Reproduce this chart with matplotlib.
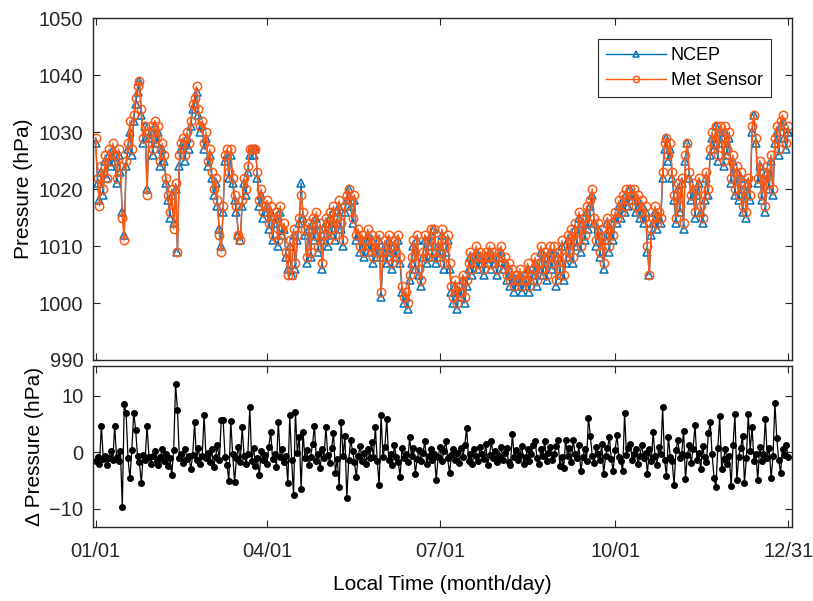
import numpy as np
import matplotlib
matplotlib.use('Agg')
import matplotlib.pyplot as plt

plt.rcParams['font.family'] = ['Liberation Sans', 'DejaVu Sans']

# NCEP surface pressure (hPa), one value per day of the year
ncep = [
    1028, 1021, 1018, 1023, 1019, 1025, 1022, 1026, 1024, 1027,
    1025, 1021, 1026, 1023, 1016, 1012, 1024, 1027, 1030, 1026,
    1032, 1035, 1037, 1039, 1033, 1028, 1031, 1020, 1029, 1030,
    1026, 1031, 1028, 1030, 1024, 1027, 1025, 1021, 1018, 1015,
    1019, 1014, 1020, 1009, 1024, 1027, 1028, 1025, 1029, 1027,
    1031, 1034, 1035, 1037, 1033, 1030, 1031, 1027, 1029, 1024,
    1026, 1022, 1019, 1021, 1017, 1013, 1010, 1016, 1025, 1026,
    1022, 1026, 1021, 1018, 1016, 1012, 1011, 1017, 1021, 1019,
    1023, 1026, 1027, 1026, 1027, 1022, 1017, 1019, 1015, 1016,
    1017, 1013, 1016, 1011, 1014, 1015, 1010, 1016, 1012, 1013,
    1008, 1006, 1010, 1005, 1012, 1006, 1011, 1014, 1021, 1015,
    1012, 1007, 1013, 1008, 1014, 1011, 1015, 1009, 1013, 1006,
    1011, 1014, 1010, 1015, 1012, 1016, 1011, 1014, 1017, 1013,
    1010, 1016, 1018, 1020, 1017, 1014, 1018, 1011, 1012, 1009,
    1011, 1008, 1010, 1012, 1009, 1011, 1007, 1010, 1008, 1011,
    1001, 1008, 1010, 1007, 1011, 1009, 1006, 1010, 1008, 1011,
    1007, 1002, 1000, 1001, 999, 1004, 1007, 1010, 1006, 1011,
    1005, 1003, 1008, 1011, 1007, 1010, 1012, 1008, 1013, 1007,
    1010, 1008, 1012, 1006, 1009, 1011, 1006, 1002, 1000, 1003,
    999, 1002, 1001, 1004, 1000, 1003, 1006, 1008, 1005, 1007,
    1009, 1006, 1008, 1007, 1005, 1008, 1007, 1009, 1006, 1008,
    1007, 1005, 1008, 1009, 1006, 1007, 1004, 1006, 1003, 1005,
    1002, 1004, 1003, 1005, 1002, 1004, 1003, 1006, 1002, 1004,
    1005, 1007, 1003, 1006, 1009, 1005, 1008, 1004, 1007, 1009,
    1006, 1009, 1003, 1008, 1005, 1010, 1004, 1007, 1011, 1008,
    1012, 1007, 1013, 1010, 1015, 1009, 1014, 1011, 1016, 1013,
    1017, 1019, 1014, 1010, 1013, 1008, 1012, 1006, 1011, 1014,
    1009, 1013, 1011, 1015, 1014, 1017, 1015, 1018, 1016, 1019,
    1017, 1020, 1018, 1019, 1016, 1018, 1015, 1017, 1014, 1016,
    1009, 1005, 1012, 1014, 1016, 1013, 1015, 1014, 1022, 1027,
    1029, 1025, 1027, 1022, 1018, 1014, 1020, 1016, 1021, 1013,
    1025, 1028, 1022, 1018, 1020, 1015, 1019, 1021, 1016, 1014,
    1018, 1022, 1019, 1026, 1029, 1027, 1031, 1025, 1030, 1028,
    1024, 1030, 1026, 1029, 1021, 1025, 1019, 1023, 1018, 1022,
    1016, 1020, 1015, 1021, 1018, 1030, 1033, 1028, 1021, 1024,
    1018, 1022, 1016, 1023, 1020, 1025, 1019, 1028, 1030, 1026,
    1031, 1032, 1029, 1027, 1030,
]

# Met Sensor pressure (hPa), same days
met = [
    1029, 1022, 1017, 1024, 1020, 1026, 1022, 1027, 1025, 1028,
    1026, 1022, 1027, 1024, 1015, 1011, 1025, 1028, 1032, 1027,
    1033, 1036, 1038, 1039, 1034, 1029, 1031, 1019, 1030, 1031,
    1027, 1032, 1029, 1031, 1025, 1028, 1026, 1022, 1019, 1016,
    1020, 1013, 1021, 1009, 1026, 1028, 1029, 1026, 1030, 1028,
    1032, 1035, 1036, 1038, 1034, 1031, 1032, 1028, 1030, 1025,
    1027, 1023, 1020, 1022, 1018, 1012, 1009, 1017, 1026, 1027,
    1023, 1027, 1022, 1019, 1017, 1012, 1011, 1018, 1022, 1020,
    1024, 1027, 1027, 1027, 1027, 1023, 1018, 1020, 1016, 1017,
    1018, 1014, 1017, 1012, 1015, 1016, 1011, 1017, 1013, 1014,
    1009, 1005, 1011, 1005, 1013, 1007, 1012, 1015, 1019, 1016,
    1013, 1008, 1014, 1009, 1015, 1012, 1016, 1010, 1014, 1007,
    1012, 1015, 1011, 1016, 1013, 1017, 1012, 1015, 1018, 1014,
    1011, 1017, 1019, 1020, 1018, 1015, 1019, 1012, 1013, 1010,
    1012, 1009, 1011, 1013, 1010, 1012, 1008, 1011, 1009, 1012,
    1002, 1009, 1011, 1008, 1012, 1010, 1007, 1011, 1009, 1012,
    1008, 1003, 1001, 1002, 1000, 1005, 1008, 1011, 1007, 1012,
    1006, 1004, 1009, 1012, 1008, 1011, 1013, 1009, 1013, 1008,
    1011, 1009, 1013, 1007, 1010, 1012, 1007, 1003, 1001, 1004,
    1000, 1003, 1002, 1005, 1001, 1004, 1007, 1009, 1006, 1008,
    1010, 1007, 1009, 1008, 1006, 1009, 1008, 1010, 1007, 1009,
    1008, 1006, 1009, 1010, 1007, 1008, 1005, 1007, 1004, 1006,
    1003, 1005, 1004, 1006, 1003, 1005, 1004, 1007, 1003, 1005,
    1006, 1008, 1004, 1007, 1010, 1006, 1009, 1005, 1008, 1010,
    1007, 1010, 1004, 1009, 1006, 1011, 1005, 1008, 1012, 1009,
    1013, 1008, 1014, 1011, 1016, 1010, 1015, 1012, 1017, 1014,
    1018, 1020, 1015, 1011, 1014, 1009, 1013, 1007, 1012, 1015,
    1010, 1014, 1012, 1016, 1015, 1018, 1016, 1019, 1017, 1020,
    1018, 1020, 1019, 1020, 1017, 1019, 1016, 1018, 1015, 1017,
    1010, 1005, 1013, 1015, 1017, 1014, 1016, 1015, 1023, 1028,
    1029, 1026, 1028, 1023, 1019, 1015, 1021, 1017, 1022, 1014,
    1026, 1028, 1023, 1019, 1021, 1016, 1020, 1022, 1017, 1015,
    1019, 1023, 1020, 1027, 1030, 1028, 1031, 1026, 1031, 1029,
    1025, 1031, 1027, 1030, 1022, 1026, 1020, 1024, 1019, 1023,
    1017, 1021, 1016, 1022, 1019, 1031, 1033, 1029, 1022, 1025,
    1019, 1023, 1017, 1024, 1021, 1026, 1020, 1029, 1031, 1027,
    1032, 1033, 1030, 1028, 1031,
]

# pressure difference NCEP - Met Sensor (hPa)
delta = [
    -1.5, -0.8, -2.0, 4.7, -1.2, -0.6, -2.2, -1.0, 0.3, -1.4,
    4.6, -0.9, -1.6, 0.2, -9.6, 8.5, 6.9, -1.1, -4.6, 0.4,
    6.9, 4.0, -0.7, -1.8, -5.4, -0.5, -1.3, 4.7, -0.8, -2.0,
    -0.6, 0.3, -1.5, -2.3, -0.9, 0.5, -1.6, -0.4, -2.5, -1.1,
    -4.0, 0.4, 12.0, 7.4, -1.0, -0.3, -1.9, 0.6, -1.2, -0.7,
    -3.0, -0.5, 5.3, -1.4, 0.8, -2.1, -0.6, 6.6, -1.0, -0.2,
    -1.8, 0.5, -2.6, -0.9, 1.2, -1.4, 5.6, 5.6, -0.8, -2.2,
    -5.1, 5.5, -0.4, -5.2, -1.1, 0.9, -1.7, 4.4, -0.6, -2.0,
    -0.3, 8.0, -1.5, 0.7, -2.4, -1.0, -4.1, 0.2, -1.3, -0.5,
    -2.1, 1.0, 3.6, -1.2, -0.4, -2.6, 5.4, -0.9, 0.6, -1.8,
    -0.7, -5.4, 6.5, -1.3, -7.5, 7.1, -0.2, 2.7, -6.4, 3.5,
    -1.1, 0.4, -2.3, -0.8, 1.5, 4.7, -1.6, -0.3, -2.8, 0.6,
    -1.0, 4.4, -0.5, -1.9, 0.8, 3.4, -3.6, -1.2, -6.2, 5.4,
    -0.6, 2.8, -8.1, -1.4, 2.1, 0.3, -1.8, -4.3, -0.7, 1.1,
    -1.5, -0.2, -2.0, 0.6, -1.1, 1.8, -0.9, 4.5, -1.6, -5.8,
    6.6, -0.8, 0.9, 5.8, -1.3, -0.4, -2.2, 1.2, -0.9, -1.7,
    -4.3, 0.7, -1.0, -0.3, -1.8, 2.6, -0.6, 0.8, -3.8, -1.2,
    0.4, -1.5, -0.2, 1.9, -2.1, -0.7, 0.5, -1.3, -0.4, -4.9,
    -0.8, 0.9, -1.6, 0.3, 1.9, -1.1, -3.7, -0.5, 0.6, -1.4,
    -0.2, -1.9, 0.8, -0.9, 1.2, 4.3, -1.5, -0.4, -2.0, 0.5,
    -0.7, -1.6, 0.9, -0.3, -1.2, 1.4, -2.2, -0.5, 1.9, -1.0,
    0.3, -1.7, -0.6, 1.0, -1.3, -0.2, 0.7, -1.8, -2.3, 3.2,
    -0.9, 0.4, -1.4, -0.5, 1.1, -2.0, -0.8, 0.6, -1.5, -0.3,
    1.3, 1.9, -1.1, -2.1, 0.5, -0.7, 2.0, -1.6, -0.2, 0.9,
    -1.3, -0.4, 1.1, 2.2, -2.5, -0.9, -2.8, 2.2, -0.6, 0.8,
    -1.7, 2.1, -0.3, -1.1, 1.2, -3.4, -0.8, 0.5, -1.5, 6.1,
    2.9, -0.7, -1.9, 0.9, -0.4, -1.3, 1.4, -3.8, -0.6, 0.7,
    2.6, -1.2, -3.3, 0.4, 3.0, -0.9, -1.6, -3.3, 6.9, -0.5,
    0.8, 1.4, -1.4, -0.3, 0.6, -2.0, -0.7, 1.3, -1.1, -0.2,
    -3.8, 0.5, -1.5, 3.5, -0.6, -2.2, 1.0, -0.4, 7.9, -1.3,
    -4.2, 2.7, -0.8, -1.6, -5.8, 0.4, 2.2, -1.0, -0.3, 3.8,
    -4.8, -0.5, 1.2, -1.9, 0.6, 4.8, -1.3, -0.2, -3.0, 1.1,
    -0.9, -1.8, 3.3, 5.3, -0.4, -4.5, -6.2, 0.8, 6.3, -3.0,
    -1.2, 0.5, -2.0, -0.6, -6.0, 1.2, 6.7, -4.9, -0.8, 0.7,
    2.9, -5.4, -1.1, 6.7, 0.3, 4.4, -1.5, -0.4, -4.9, 1.0,
    -1.6, -0.3, 5.9, -1.0, 0.8, -4.6, -0.7, 8.7, 2.5, -1.4,
    -3.6, 0.6, -0.5, 1.2, -0.8,
]

tick_days = [0, 90, 181, 273, 364]
tick_labels = ['01/01', '04/01', '07/01', '10/01', '12/31']

days = np.arange(len(ncep))

blue = '#0072BD'
orange = '#FF5A14'

fig = plt.figure(figsize=(8.13, 6.01), dpi=100)
ax1 = fig.add_axes([0.1144, 0.401, 0.8598, 0.569])
ax2 = fig.add_axes([0.1144, 0.123, 0.8598, 0.268])

ax1.plot(days, ncep, color=blue, lw=1.0, marker='^', ms=6, mfc='none',
         mec=blue, mew=1.1, label='NCEP')
ax1.plot(days, met, color=orange, lw=1.0, marker='o', ms=6, mfc='none',
         mec=orange, mew=1.1, label='Met Sensor')
ax1.set_ylim(990, 1050)
ax1.set_yticks(np.arange(990, 1051, 10))
ax1.set_ylabel('Pressure (hPa)', fontsize=15, labelpad=4)
leg = ax1.legend(loc='upper right', bbox_to_anchor=(0.970, 0.9386),
                 borderaxespad=0, fontsize=13, fancybox=False,
                 edgecolor='#262626', framealpha=1, handlelength=3.3,
                 handletextpad=0.3, borderpad=0.45, labelspacing=0.45)
leg.get_frame().set_linewidth(0.8)
for h in leg.get_lines():
    h.set_markersize(4.5)
    h.set_linewidth(1.0)

ax2.plot(days, delta, color='black', lw=0.9, marker='o', ms=4,
         mfc='black', mec='black')
ax2.set_ylim(-13.2, 15.2)
ax2.set_yticks([-10, 0, 10])
ax2.set_ylabel('\u0394 Pressure (hPa)', fontsize=15, labelpad=4)
ax2.set_xlabel('Local Time (month/day)', fontsize=15, labelpad=10)

for ax in (ax1, ax2):
    ax.set_xlim(-1.4, 366)
    ax.set_xticks(tick_days)
    ax.tick_params(direction='in', top=True, right=True, labelsize=14.5,
                   length=5, width=0.8, color='#262626', labelcolor='#262626')
    ax.tick_params(axis='y', pad=7)
    ax.tick_params(axis='x', pad=11)
    for s in ax.spines.values():
        s.set_linewidth(1.0)
        s.set_color('#262626')
ax1.set_xticklabels([])
ax2.set_xticklabels(tick_labels)

fig.savefig('out.png', dpi=100)
